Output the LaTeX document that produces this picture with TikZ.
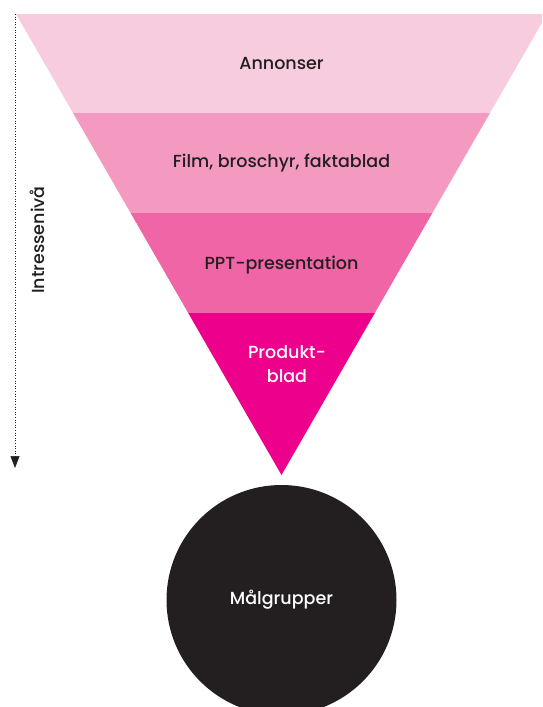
\documentclass[tikz,border=0pt]{standalone}
\usepackage{fontspec}
\setmainfont{Poppins}
\newfontfamily\medfont{Poppins Medium}
\usetikzlibrary{arrows.meta}

\definecolor{bandA}{HTML}{F8CCDF}
\definecolor{bandB}{HTML}{F49AC1}
\definecolor{bandC}{HTML}{F065A5}
\definecolor{bandD}{HTML}{EC008C}
\definecolor{darkdot}{HTML}{231F20}

\begin{document}
\begin{tikzpicture}[x=1pt, y=-1pt]
    % Define styles
    \tikzstyle{label}=[text=darkdot, font=\medfont\fontsize{17.5}{24}\selectfont, align=center]
    \tikzstyle{whitelabel}=[text=white, font=\medfont\fontsize{17.5}{24}\selectfont, align=center]
    \tikzstyle{arrow}=[-{Triangle[width=9pt, length=12pt]}, dotted, darkdot, semithick]

    \useasboundingbox (0,0) rectangle (542,707);
    \clip (0,0) rectangle (542,707);

    % Funnel bands
    \fill[bandA] (16,14) -- (547,14) -- (490,113) -- (73,113) -- cycle;
    \fill[bandB] (73,113) -- (490,113) -- (432.4,213) -- (130.6,213) -- cycle;
    \fill[bandC] (130.6,213) -- (432.4,213) -- (374.8,313) -- (188.2,313) -- cycle;
    \fill[bandD] (188.2,313) -- (374.8,313) -- (281.5,475) -- cycle;

    % Target group
    \node[circle, fill=darkdot, minimum size=230pt, inner sep=0pt] (target) at (281.5,600) {};
    \node[whitelabel] (targettext) at (target.center) {Målgrupper};

    % Band labels
    \node[label] (ads) at (281.5,63) {Annonser};
    \node[label] (film) at (281.5,163) {Film, broschyr, faktablad};
    \node[label] (ppt) at (281.5,265) {PPT-presentation};
    \node[whitelabel] (sheet) at (287,364) {Produkt-\\blad};

    % Interest level
    \coordinate (levtop) at (15,14);
    \coordinate (levbot) at (15,468);
    \draw[arrow] (levtop) -- (levbot);
    \node[label, rotate=90] (level) at (37,240) {Intressenivå};
\end{tikzpicture}
\end{document}
